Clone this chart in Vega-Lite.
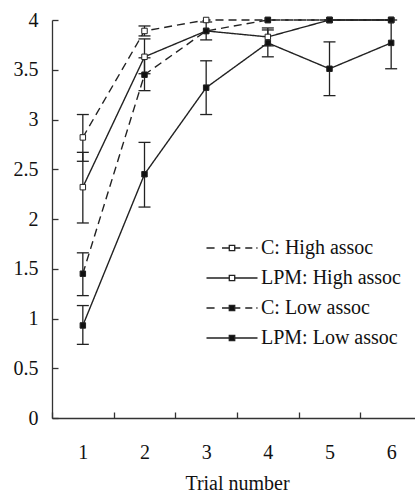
{
  "$schema": "https://vega.github.io/schema/vega-lite/v6.json",
  "width": 363,
  "height": 398,
  "autosize": {"type": "none"},
  "padding": {"left": 52, "top": 20, "right": 0, "bottom": 78},
  "background": "white",
  "config": {
    "view": {"stroke": null},
    "font": "Liberation Serif"
  },
  "data": {
    "values": [
      {"trial": 1, "series": "C: High assoc", "mean": 2.82, "lo": 2.58, "hi": 3.05},
      {"trial": 2, "series": "C: High assoc", "mean": 3.89, "lo": 3.84, "hi": 3.94},
      {"trial": 3, "series": "C: High assoc", "mean": 4.0},
      {"trial": 4, "series": "C: High assoc", "mean": 4.0},
      {"trial": 5, "series": "C: High assoc", "mean": 4.0},
      {"trial": 6, "series": "C: High assoc", "mean": 4.0},
      {"trial": 1, "series": "LPM: High assoc", "mean": 2.32, "lo": 1.96, "hi": 2.67},
      {"trial": 2, "series": "LPM: High assoc", "mean": 3.63, "lo": 3.46, "hi": 3.81},
      {"trial": 3, "series": "LPM: High assoc", "mean": 3.89, "lo": 3.8, "hi": 3.98},
      {"trial": 4, "series": "LPM: High assoc", "mean": 3.83, "lo": 3.74, "hi": 3.92},
      {"trial": 5, "series": "LPM: High assoc", "mean": 4.0},
      {"trial": 6, "series": "LPM: High assoc", "mean": 4.0},
      {"trial": 1, "series": "C: Low assoc", "mean": 1.45, "lo": 1.23, "hi": 1.66},
      {"trial": 2, "series": "C: Low assoc", "mean": 3.45, "lo": 3.29, "hi": 3.62},
      {"trial": 3, "series": "C: Low assoc", "mean": 3.89},
      {"trial": 4, "series": "C: Low assoc", "mean": 4.0},
      {"trial": 5, "series": "C: Low assoc", "mean": 4.0},
      {"trial": 6, "series": "C: Low assoc", "mean": 4.0},
      {"trial": 1, "series": "LPM: Low assoc", "mean": 0.93, "lo": 0.74, "hi": 1.13},
      {"trial": 2, "series": "LPM: Low assoc", "mean": 2.45, "lo": 2.12, "hi": 2.77},
      {"trial": 3, "series": "LPM: Low assoc", "mean": 3.32, "lo": 3.05, "hi": 3.59},
      {"trial": 4, "series": "LPM: Low assoc", "mean": 3.77, "lo": 3.63, "hi": 3.9},
      {"trial": 5, "series": "LPM: Low assoc", "mean": 3.51, "lo": 3.24, "hi": 3.78},
      {"trial": 6, "series": "LPM: Low assoc", "mean": 3.77, "lo": 3.51, "hi": 4.0}
    ]
  },
  "encoding": {
    "x": {
      "field": "trial",
      "type": "ordinal",
      "scale": {"range": [0, 370], "paddingInner": 0, "paddingOuter": 0},
      "axis": {
        "title": "Trial number",
        "grid": false,
        "labelAngle": 0,
        "tickBand": "extent",
        "tickSize": -6,
        "tickColor": "#333",
        "tickWidth": 1.3,
        "domainColor": "#333",
        "domainWidth": 1.3,
        "labelFont": "Liberation Serif",
        "labelFontSize": 20,
        "labelColor": "#111",
        "labelPadding": 30,
        "titleFont": "Liberation Serif",
        "titleFontSize": 20,
        "titleFontWeight": "normal",
        "titleColor": "#111",
        "titlePadding": 11
      }
    }
  },
  "layer": [
    {
      "mark": {"type": "line", "color": "#222"},
      "encoding": {
        "y": {
          "field": "mean",
          "type": "quantitative",
          "scale": {"domain": [0, 4], "nice": false},
          "axis": {
            "title": null,
            "grid": false,
            "values": [0, 0.5, 1, 1.5, 2, 2.5, 3, 3.5, 4],
            "format": "~g",
            "tickSize": -6,
            "tickColor": "#333",
            "tickWidth": 1.3,
            "domainColor": "#333",
            "domainWidth": 1.3,
            "labelFont": "Liberation Serif",
            "labelFontSize": 20,
            "labelColor": "#111",
            "labelPadding": 20
          }
        },
        "strokeDash": {
          "field": "series",
          "type": "nominal",
          "scale": {
            "domain": ["C: High assoc", "C: Low assoc", "LPM: High assoc", "LPM: Low assoc"],
            "range": [[8, 5], [8, 5], [1, 0], [1, 0]]
          },
          "legend": null
        },
        "strokeWidth": {
          "field": "series",
          "type": "nominal",
          "scale": {
            "domain": ["C: High assoc", "C: Low assoc", "LPM: High assoc", "LPM: Low assoc"],
            "range": [1.4, 1.4, 1.5, 2]
          },
          "legend": null
        }
      }
    },
    {
      "transform": [{"filter": "isValid(datum.lo)"}],
      "mark": {"type": "rule", "color": "#222", "strokeWidth": 1.3},
      "encoding": {
        "y": {"field": "lo", "type": "quantitative"},
        "y2": {"field": "hi"}
      }
    },
    {
      "transform": [{"filter": "isValid(datum.lo)"}],
      "mark": {"type": "tick", "color": "#222", "size": 12, "thickness": 1.3, "opacity": 1},
      "encoding": {
        "y": {"field": "lo", "type": "quantitative"}
      }
    },
    {
      "transform": [{"filter": "isValid(datum.hi)"}],
      "mark": {"type": "tick", "color": "#222", "size": 12, "thickness": 1.3, "opacity": 1},
      "encoding": {
        "y": {"field": "hi", "type": "quantitative"}
      }
    },
    {
      "mark": {"type": "point", "shape": "square", "filled": true, "size": 30, "stroke": "#222", "strokeWidth": 1, "opacity": 1},
      "encoding": {
        "y": {"field": "mean", "type": "quantitative"},
        "fill": {
          "field": "series",
          "type": "nominal",
          "scale": {
            "domain": ["C: High assoc", "LPM: High assoc", "C: Low assoc", "LPM: Low assoc"],
            "range": ["white", "white", "#111", "#111"]
          },
          "legend": {
            "title": null,
            "orient": "none",
            "legendX": 170,
            "legendY": 218,
            "padding": 0,
            "symbolType": "M-3,0H-0.32M-0.32,-0.32H0.32V0.32H-0.32ZM0.32,0H3",
            "symbolSize": 289,
            "symbolStrokeColor": "#222",
            "symbolStrokeWidth": 1.3,
            "symbolOpacity": 1,
            "labelFont": "Liberation Serif",
            "labelFontSize": 20,
            "labelColor": "#111",
            "labelOffset": 19,
            "rowPadding": 10,
            "encode": {
              "symbols": {
                "update": {
                  "shape": {
                    "signal": "indexof(datum.value, 'C:') == 0 ? 'M-3,0H-2.05M-1.18,0H-0.32M-0.32,-0.32H0.32V0.32H-0.32ZM0.32,0H0.98M1.56,0H2.39M2.86,0H3' : 'M-3,0H-0.32M-0.32,-0.32H0.32V0.32H-0.32ZM0.32,0H3'"
                  }
                }
              }
            }
          }
        }
      }
    }
  ]
}
